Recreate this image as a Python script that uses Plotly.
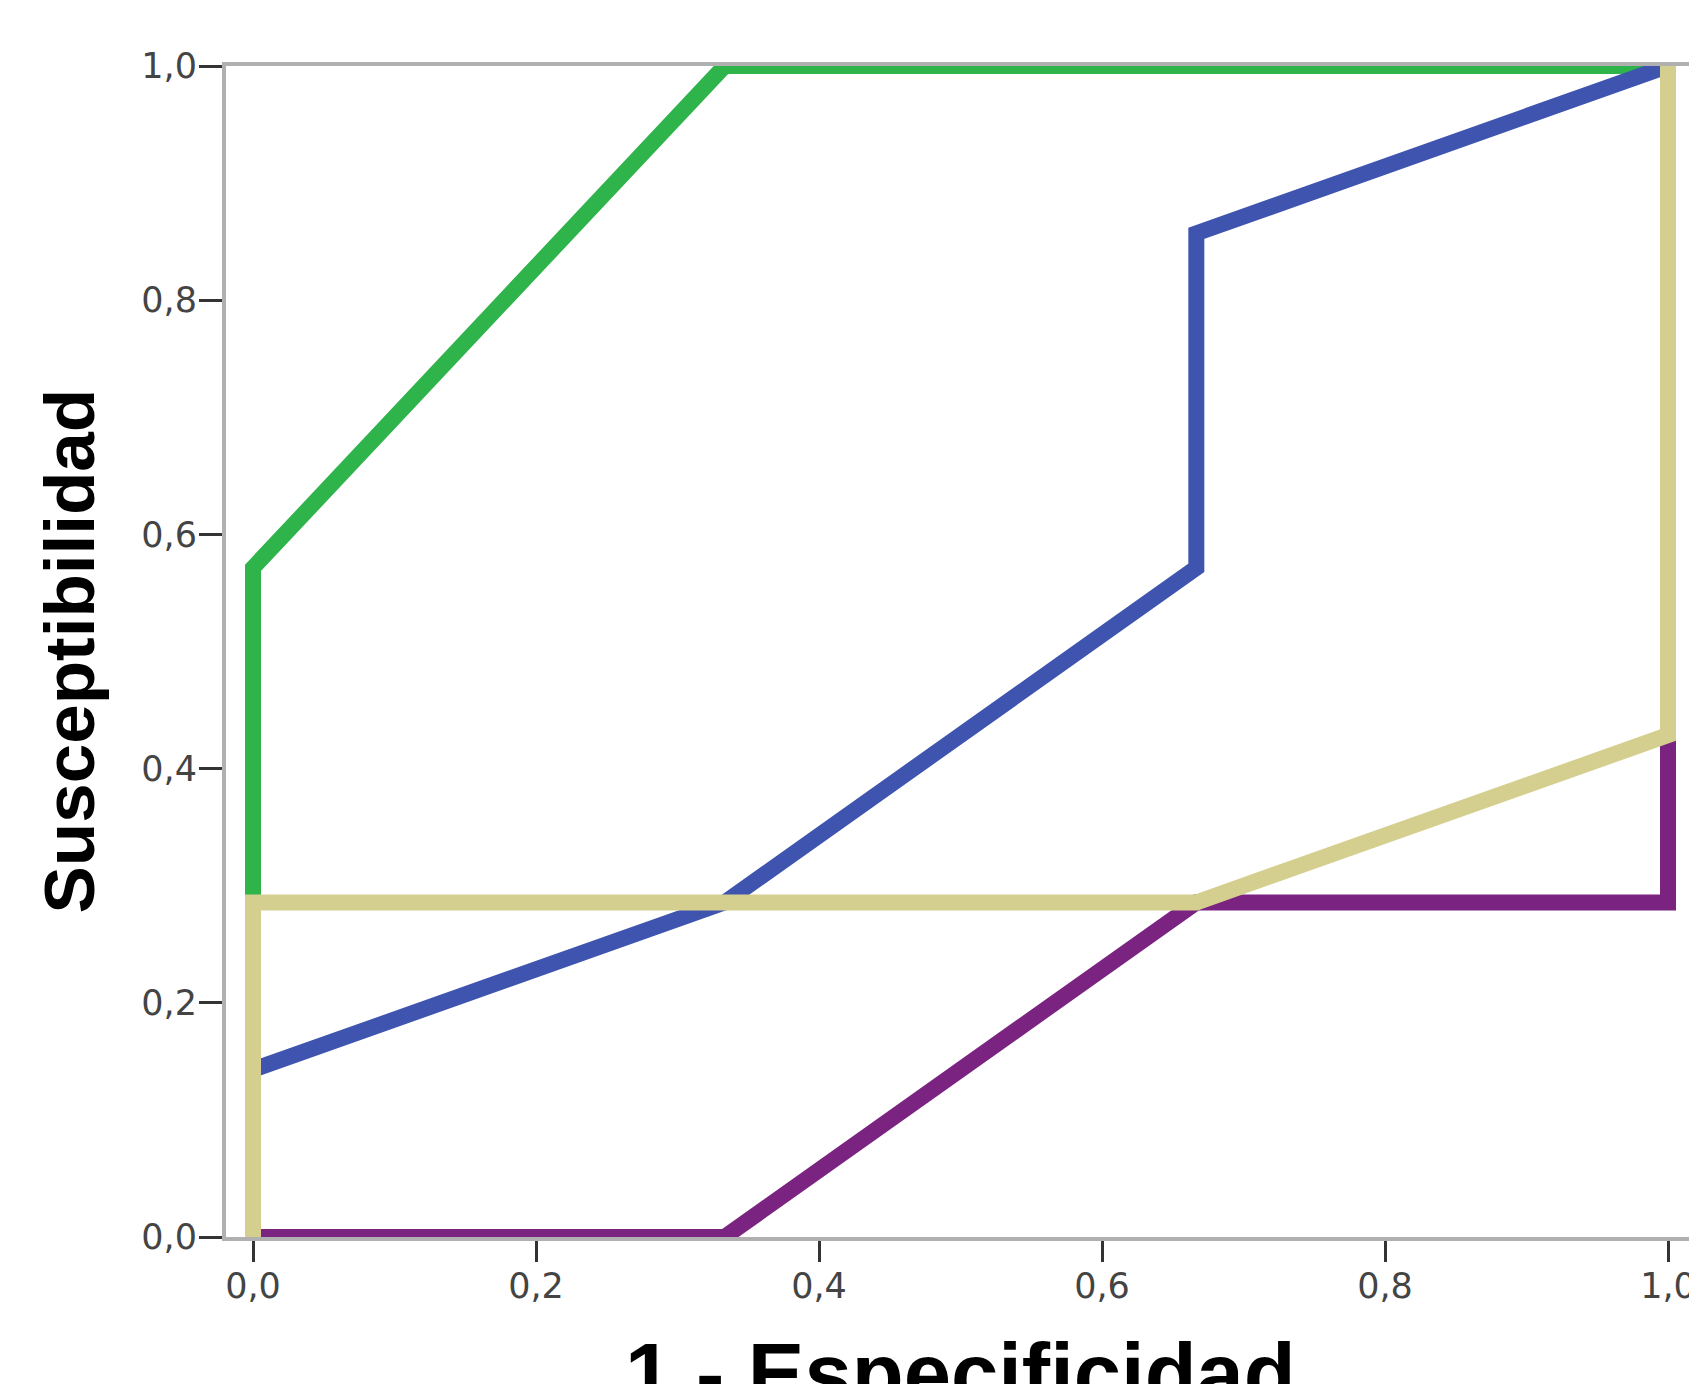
import plotly.graph_objects as go

# ROC curves (1 - Especificidad vs Susceptibilidad)
green_x = [0.0, 0.0, 1/3, 1.0]
green_y = [0.0, 4/7, 1.0, 1.0]

blue_x = [0.0, 0.0, 1/3, 2/3, 2/3, 1.0]
blue_y = [0.0, 1/7, 2/7, 4/7, 6/7, 1.0]

purple_x = [0.0, 1/3, 2/3, 1.0, 1.0, 1.0]
purple_y = [0.0, 0.0, 2/7, 2/7, 3/7, 1.0]

tan_x = [0.0, 0.0, 2/3, 1.0, 1.0]
tan_y = [0.0, 2/7, 2/7, 3/7, 1.0]

tick_vals = [0.0, 0.2, 0.4, 0.6, 0.8, 1.0]
tick_text = ["0,0", "0,2", "0,4", "0,6", "0,8", "1,0"]

x_title = "1 - Especificidad"
y_title = "Susceptibilidad"

series = [
    (green_x, green_y, "#2fb34b"),
    (blue_x, blue_y, "#3e54ae"),
    (purple_x, purple_y, "#7a2381"),
    (tan_x, tan_y, "#d5cf8f"),
]

fig = go.Figure()
for xs, ys, col in series:
    fig.add_trace(go.Scatter(x=xs, y=ys, mode="lines",
                             line=dict(color=col, width=16),
                             showlegend=False, hoverinfo="skip"))

# page body has an 8px margin, so the figure is sized to fit the window
W, H = 1689, 1376
ml, mr, mt, mb = 218, 2, 58, 147
px_per_unit = 1415.0
x0_px = 245 - ml
xr = [-x0_px / px_per_unit, -x0_px / px_per_unit + (W - ml - mr) / px_per_unit]

fig.update_layout(
    width=W, height=H,
    margin=dict(l=ml, r=mr, t=mt, b=mb, autoexpand=False),
    paper_bgcolor="white", plot_bgcolor="white",
    font=dict(family="DejaVu Sans", color="#3c3c3c"),
)
fig.update_xaxes(
    range=xr, tickvals=tick_vals, ticktext=tick_text,
    showgrid=False, zeroline=False,
    showline=True, mirror=True, linecolor="#b0b0b0", linewidth=4,
    ticks="outside", ticklen=21, tickwidth=3, tickcolor="#333333",
    ticklabelstandoff=-6,
    tickfont=dict(family="DejaVu Sans", size=35, color="#444444"),
)
fig.update_yaxes(
    range=[0, 1], tickvals=tick_vals, ticktext=tick_text,
    showgrid=False, zeroline=False,
    showline=True, mirror=True, linecolor="#b0b0b0", linewidth=4,
    ticks="outside", ticklen=23, tickwidth=3, tickcolor="#333333",
    ticklabelstandoff=-5,
    tickfont=dict(family="DejaVu Sans", size=35, color="#444444"),
)

fig.add_annotation(text=y_title, xref="paper", yref="paper", x=0, y=0.5,
                   xanchor="center", yanchor="middle", xshift=-(ml - 61),
                   textangle=-90, showarrow=False,
                   font=dict(family="Liberation Sans", size=71, color="black", weight="bold"))
fig.add_annotation(text=x_title, xref="paper", yref="paper", x=(952 - ml) / (W - ml - mr), y=0,
                   xanchor="center", yanchor="top", yshift=-87,
                   showarrow=False,
                   font=dict(family="Liberation Sans", size=85, color="black", weight="bold"))

fig.write_html("out.html")
